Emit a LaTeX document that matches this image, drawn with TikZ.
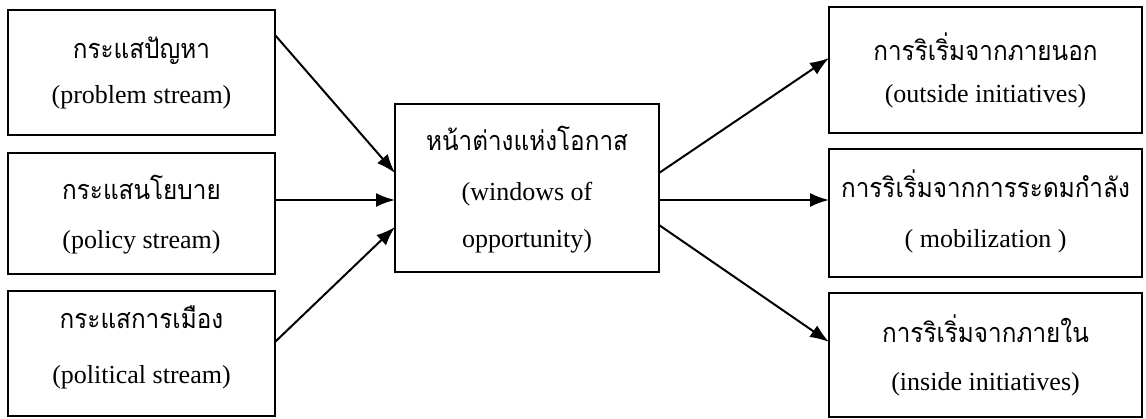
\documentclass[tikz,border=0pt]{standalone}
\usepackage{fontspec}
\setmainfont{Liberation Serif}
\newfontfamily\thaifont[Script=Thai,FakeStretch=0.9]{Loma}
\usetikzlibrary{arrows.meta}
\begin{document}
\begin{tikzpicture}[x=1pt,y=-1pt,
  box/.style={draw,line width=2pt,inner sep=0pt,outer sep=0pt},
  th/.style={anchor=base,inner sep=0pt,font=\thaifont\fontsize{27}{30}\selectfont},
  en/.style={anchor=base,inner sep=0pt,font=\fontsize{26}{30}\selectfont},
  arr/.style={line width=2pt,-{Latex[length=19pt,width=14pt]}}]
\useasboundingbox (0,0) rectangle (1146,418);
% boxes
\node[box,minimum width=267pt,minimum height=125pt] (L1) at (141.5,72.5) {};
\node[box,minimum width=267pt,minimum height=121pt] (L2) at (141.5,213.5) {};
\node[box,minimum width=267pt,minimum height=125pt] (L3) at (141.5,353.5) {};
\node[box,minimum width=264pt,minimum height=168pt] (C) at (527,188) {};
\node[box,minimum width=313pt,minimum height=126pt] (R1) at (985.5,70) {};
\node[box,minimum width=313pt,minimum height=128pt] (R2) at (985.5,213) {};
\node[box,minimum width=313pt,minimum height=124pt] (R3) at (985.5,355) {};
% texts
\node[th] (tL1) at (141.5,58) {กระแสปัญหา};
\node[en] (eL1) at (141.5,103) {(problem stream)};
\node[th] (tL2) at (141.5,199) {กระแสนโยบาย};
\node[en] (eL2) at (141.5,248) {(policy stream)};
\node[th] (tL3) at (141.5,328) {กระแสการเมือง};
\node[en] (eL3) at (141.5,383) {(political stream)};
\node[th] (tC) at (527,150) {หน้าต่างแห่งโอกาส};
\node[en] (eC1) at (527,200) {(windows of};
\node[en] (eC2) at (527,247) {opportunity)};
\node[th] (tR1) at (985.5,60) {การริเริ่มจากภายนอก};
\node[en] (eR1) at (985.5,102) {(outside initiatives)};
\node[th] (tR2) at (985.5,197) {การริเริ่มจากการระดมกำลัง};
\node[en] (eR2) at (985.5,247) {( mobilization )};
\node[th] (tR3) at (985.5,342) {การริเริ่มจากภายใน};
\node[en] (eR3) at (985.5,390) {(inside initiatives)};
% arrows
\draw[arr] ([yshift=37.5pt]L1.east) -- ([yshift=15pt]C.west);
\draw[arr] ([yshift=13.5pt]L2.east) -- ([yshift=-12pt]C.west);
\draw[arr] ([yshift=11.5pt]L3.east) -- ([yshift=-39pt]C.west);
\draw[arr] ([yshift=15pt]C.east) -- ([yshift=12pt]R1.west);
\draw[arr] ([yshift=-12pt]C.east) -- ([yshift=13pt]R2.west);
\draw[arr] ([yshift=-37pt]C.east) -- ([yshift=13pt]R3.west);
\end{tikzpicture}
\end{document}
